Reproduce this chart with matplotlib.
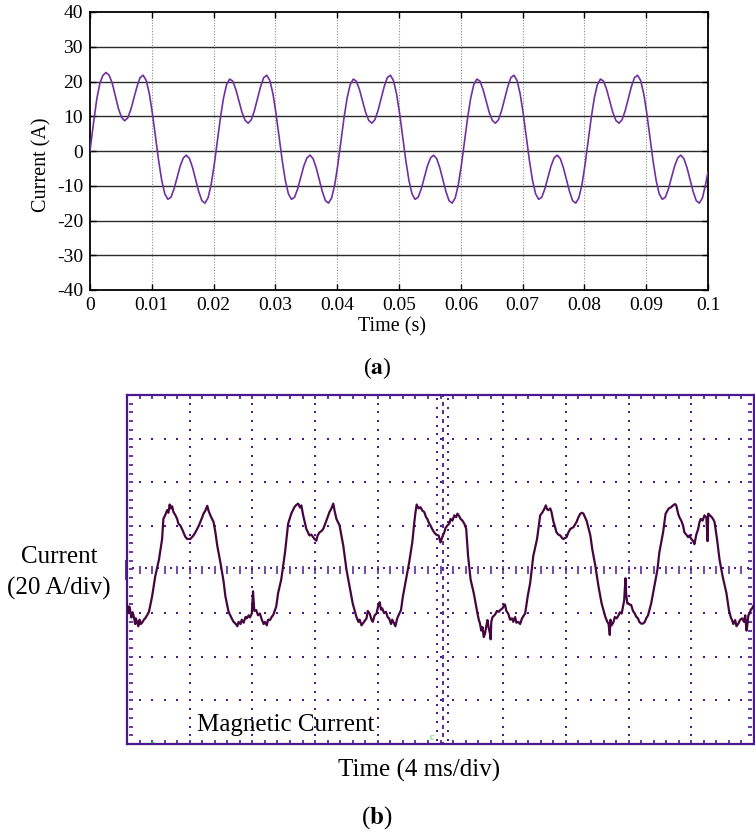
import numpy as np
import matplotlib
matplotlib.use("Agg")
import matplotlib.pyplot as plt

plt.rcParams['font.family'] = ['Liberation Serif', 'DejaVu Serif']
plt.rcParams['mathtext.fontset'] = 'stix'
plt.rcParams['axes.unicode_minus'] = False

# ---------------- data: panel (a) simulated current ----------------
time_a = [0.0] + [round(0.0001 + 0.0005 * k, 4) for k in range(200)] + [0.1]
current_a = [
    0.0,
    1.5, 8.5, 15.0, 19.5, 21.8, 22.6, 21.8, 19.5, 15.8, 12.2, 9.7, 8.7, 9.5, 11.9, 15.2,
    18.5, 21.1, 21.8, 20.3, 16.5, 10.8, 4.1, -2.7, -8.4, -12.3, -13.9, -13.3, -10.9, -7.6, -4.3, -2.0,
    -1.2, -2.2, -4.8, -8.2, -11.7, -14.3, -15.0, -13.5, -9.7, -4.0,
    2.7, 9.5, 15.2, 19.1, 20.7, 20.1, 17.7, 14.4, 11.1, 8.8, 8.0, 9.0, 11.6, 15.0, 18.5, 21.1, 21.8, 20.3, 16.5, 10.8,
    4.1, -2.7, -8.4, -12.3, -13.9, -13.3, -10.9, -7.6, -4.3, -2.0, -1.2, -2.2, -4.8, -8.2, -11.7, -14.3, -15.0, -13.5, -9.7, -4.0,
    2.7, 9.5, 15.2, 19.1, 20.7, 20.1, 17.7, 14.4, 11.1, 8.8, 8.0, 9.0, 11.6, 15.0, 18.5, 21.1, 21.8, 20.3, 16.5, 10.8,
    4.1, -2.7, -8.4, -12.3, -13.9, -13.3, -10.9, -7.6, -4.3, -2.0, -1.2, -2.2, -4.8, -8.2, -11.7, -14.3, -15.0, -13.5, -9.7, -4.0,
    2.7, 9.5, 15.2, 19.1, 20.7, 20.1, 17.7, 14.4, 11.1, 8.8, 8.0, 9.0, 11.6, 15.0, 18.5, 21.1, 21.8, 20.3, 16.5, 10.8,
    4.1, -2.7, -8.4, -12.3, -13.9, -13.3, -10.9, -7.6, -4.3, -2.0, -1.2, -2.2, -4.8, -8.2, -11.7, -14.3, -15.0, -13.5, -9.7, -4.0,
    2.7, 9.5, 15.2, 19.1, 20.7, 20.1, 17.7, 14.4, 11.1, 8.8, 8.0, 9.0, 11.6, 15.0, 18.5, 21.1, 21.8, 20.3, 16.5, 10.8,
    4.1, -2.7, -8.4, -12.3, -13.9, -13.3, -10.9, -7.6, -4.3, -2.0, -1.2, -2.2, -4.8, -8.2, -11.7, -14.3, -15.0, -13.5, -9.7,
    -6.0,
]
a_xticks = [0, 0.01, 0.02, 0.03, 0.04, 0.05, 0.06, 0.07, 0.08, 0.09, 0.1]
a_xticklabels = ['0', '0.01', '0.02', '0.03', '0.04', '0.05', '0.06', '0.07', '0.08', '0.09', '0.1']
a_yticks = [-40, -30, -20, -10, 0, 10, 20, 30, 40]

# ---------------- data: panel (b) measured current (in divisions) ----------------
time_b_div = [
    0.00, 0.02, 0.04, 0.05, 0.07, 0.09, 0.11, 0.13, 0.14, 0.16, 0.18, 0.20, 0.22, 0.24, 0.27, 0.29, 0.32, 0.35,
    0.40, 0.45, 0.51, 0.56, 0.58, 0.61, 0.64, 0.66, 0.68, 0.70, 0.72, 0.74, 0.77, 0.80, 0.82, 0.85, 0.88, 0.90,
    0.93, 0.96, 1.01, 1.06, 1.09, 1.12, 1.15, 1.17, 1.20, 1.22, 1.25, 1.28, 1.30, 1.33, 1.36, 1.38, 1.41, 1.44,
    1.49, 1.54, 1.57, 1.62, 1.67, 1.70, 1.73, 1.76, 1.78, 1.81, 1.83, 1.86, 1.89, 1.91, 1.94, 1.96, 1.99,
    2.01, 2.03, 2.06, 2.09, 2.12, 2.15, 2.18, 2.20, 2.23, 2.25, 2.28, 2.31, 2.33, 2.38, 2.41, 2.46, 2.52, 2.57,
    2.62, 2.67, 2.70, 2.73, 2.76, 2.78, 2.81, 2.84, 2.86, 2.91, 2.94, 2.97, 2.99, 3.02, 3.04, 3.07, 3.10, 3.13,
    3.18, 3.23, 3.26, 3.29, 3.31, 3.34, 3.39, 3.45, 3.50, 3.55, 3.60, 3.66, 3.69, 3.71, 3.74, 3.76, 3.79, 3.82,
    3.84, 3.87, 3.90, 3.92, 3.95, 3.98, 4.01,
    4.03, 4.05, 4.07, 4.10, 4.13, 4.16, 4.18, 4.21, 4.23, 4.26, 4.28, 4.31, 4.34, 4.37, 4.40, 4.45, 4.50, 4.55,
    4.58, 4.60, 4.62, 4.65, 4.68, 4.71, 4.74, 4.77, 4.79, 4.82, 4.84, 4.87, 4.90, 4.93, 4.97, 5.00, 5.03, 5.06,
    5.08, 5.11, 5.14, 5.16, 5.19, 5.22, 5.25, 5.27, 5.30, 5.32, 5.35, 5.38, 5.41, 5.44, 5.48, 5.53, 5.59, 5.61,
    5.63, 5.65, 5.67, 5.69, 5.71, 5.73, 5.75, 5.77, 5.79, 5.80, 5.81, 5.83, 5.86, 5.88, 5.90, 5.93, 5.96, 5.99,
    6.02,
    6.03, 6.05, 6.08, 6.11, 6.14, 6.16, 6.19, 6.21, 6.24, 6.27, 6.30, 6.33, 6.35, 6.39, 6.43, 6.48, 6.54, 6.59,
    6.63, 6.66, 6.68, 6.70, 6.72, 6.75, 6.77, 6.80, 6.82, 6.85, 6.88, 6.91, 6.94, 6.96, 7.01, 7.04, 7.07, 7.12,
    7.17, 7.20, 7.23, 7.26, 7.28, 7.31, 7.33, 7.39, 7.42, 7.47, 7.52, 7.57, 7.63, 7.66, 7.68, 7.70, 7.71, 7.73,
    7.76, 7.78, 7.81, 7.84, 7.86, 7.89, 7.91, 7.93, 7.95, 7.96, 7.98, 8.00,
    8.02, 8.04, 8.07, 8.10, 8.12, 8.15, 8.17, 8.20, 8.23, 8.26, 8.28, 8.31, 8.36, 8.40, 8.46, 8.49, 8.55, 8.59,
    8.62, 8.64, 8.67, 8.71, 8.74, 8.76, 8.79, 8.81, 8.84, 8.87, 8.89, 8.92, 8.95, 8.97, 9.00, 9.03, 9.05, 9.08,
    9.11, 9.13, 9.15, 9.18, 9.21, 9.24, 9.26, 9.27, 9.29, 9.32, 9.35, 9.37, 9.41, 9.45, 9.50, 9.56, 9.60, 9.63,
    9.65, 9.67, 9.70, 9.72, 9.75, 9.78, 9.81, 9.84, 9.86, 9.88, 9.89, 9.91, 9.93, 9.95, 9.97, 10.00,
]
current_b_div = [
    -0.80, -1.00, -0.85, -0.93, -1.10, -0.98, -1.09, -1.25, -1.12, -1.20, -1.30, -1.15, -1.25, -1.22, -1.15, -1.12, -1.05, -0.97,
    -0.62, -0.16, 0.23, 0.70, 1.16, 1.25, 1.36, 1.30, 1.49, 1.40, 1.45, 1.32, 1.25, 1.16, 1.05, 1.01, 0.92, 0.85,
    0.75, 0.70, 0.70, 0.78, 0.85, 0.93, 1.02, 1.09, 1.20, 1.28, 1.35, 1.46, 1.35, 1.24, 1.15, 1.09, 0.85, 0.54,
    0.16, -0.27, -0.62, -0.97, -1.12, -1.20, -1.24, -1.30, -1.20, -1.25, -1.15, -1.22, -1.09, -1.12, -1.05, -1.10, -1.01,
    -0.50, -0.95, -0.93, -1.05, -1.01, -1.15, -1.25, -1.20, -1.28, -1.15, -1.16, -1.08, -1.05, -0.85, -0.54, -0.23, 0.39, 1.05,
    1.28, 1.43, 1.48, 1.51, 1.42, 1.47, 1.24, 1.05, 0.93, 0.78, 0.80, 0.74, 0.70, 0.66, 0.78, 0.85, 0.88, 0.93,
    1.12, 1.32, 1.40, 1.51, 1.35, 1.16, 1.01, 0.54, 0.00, -0.39, -0.78, -1.09, -1.20, -1.15, -1.28, -1.24, -1.18, -1.12,
    -0.95, -1.01, -1.15, -1.20, -1.05, -1.01, -0.81,
    -0.75, -0.92, -0.89, -1.00, -0.97, -1.10, -1.12, -1.25, -1.15, -1.24, -1.30, -1.12, -1.02, -0.93, -0.62, -0.23, 0.16, 0.62,
    1.05, 1.30, 1.49, 1.40, 1.43, 1.35, 1.32, 1.20, 1.16, 1.05, 1.01, 0.92, 0.85, 0.80, 0.78, 0.62, 0.75, 0.85,
    0.95, 1.01, 1.05, 1.16, 1.12, 1.24, 1.20, 1.28, 1.22, 1.16, 1.12, 1.05, 0.93, 0.31, -0.23, -0.54, -1.01, -1.15,
    -1.24, -1.40, -1.32, -1.55, -1.47, -1.30, -1.16, -1.35, -1.47, -1.60, -1.20, -1.09, -1.05, -1.01, -0.95, -0.97, -0.92, -0.89,
    -0.80,
    -0.81, -0.95, -1.01, -1.15, -1.12, -1.20, -1.09, -1.22, -1.20, -1.25, -1.12, -1.05, -1.01, -0.62, -0.31, 0.31, 0.70, 1.24,
    1.32, 1.40, 1.47, 1.38, 1.36, 1.40, 1.32, 1.10, 1.01, 0.85, 0.80, 0.78, 0.72, 0.70, 0.74, 0.85, 0.93, 0.97,
    1.09, 1.20, 1.28, 1.30, 1.28, 1.18, 1.12, 0.78, 0.47, 0.08, -0.39, -0.78, -1.09, -1.20, -1.24, -1.50, -1.15, -1.28,
    -1.20, -1.09, -1.12, -1.05, -0.98, -1.01, -0.85, -0.70, -0.20, -0.55, -0.78, -0.78,
    -0.81, -0.81, -0.95, -1.01, -1.08, -1.12, -1.20, -1.24, -1.24, -1.20, -1.12, -1.05, -0.78, -0.47, 0.00, 0.39, 0.85, 1.28,
    1.35, 1.40, 1.42, 1.47, 1.50, 1.47, 1.28, 1.20, 1.12, 1.00, 0.85, 0.80, 0.74, 0.78, 0.70, 0.65, 0.58, 0.80,
    0.93, 1.08, 1.16, 1.12, 1.24, 1.20, 0.65, 1.28, 1.25, 1.21, 1.15, 1.09, 0.70, 0.23, -0.16, -0.54, -0.93, -1.10,
    -1.16, -1.25, -1.16, -1.30, -1.24, -1.15, -1.12, -1.20, -1.05, -1.40, -1.32, -1.05, -1.01, -0.92, -0.89, -0.81,
]

# ---------------- figure ----------------
W, H = 755, 836
fig = plt.figure(figsize=(W / 100, H / 100), dpi=100)


def frac(x0, y0, x1, y1):
    return [x0 / W, 1 - y1 / H, (x1 - x0) / W, (y1 - y0) / H]


# ----- panel (a) -----
ax1 = fig.add_axes(frac(90, 12, 708, 290))
for y in a_yticks[1:-1]:
    ax1.axhline(y, color='#2a2a2a', lw=1.0, zorder=1)
for x in a_xticks[1:-1]:
    ax1.axvline(x, color='#8a8a8a', lw=0.8, ls=(0, (1, 1.5)), zorder=1)
ax1.plot(time_a, current_a, color='#7030a0', lw=1.2, zorder=3)
ax1.set_xlim(0, 0.1)
ax1.set_ylim(-40, 40)
ax1.set_xticks(a_xticks)
ax1.set_xticklabels(a_xticklabels)
ax1.set_yticks(a_yticks)
ax1.tick_params(direction='in', top=True, right=True, labelsize=14, length=4, width=1, pad=5)
for s in ax1.spines.values():
    s.set_linewidth(1.3)
fig.text(42 / W, 1 - 165 / H, 'Current (A)', rotation=90, ha='center', va='center', fontsize=14.5)
fig.text(392 / W, 1 - 327 / H, 'Time (s)', ha='center', va='center', fontsize=14.5)
fig.text(377 / W, 1 - 368 / H, r'($\mathbf{a}$)', ha='center', va='center', fontsize=17)

# ----- panel (b) -----
gc = '#4a1890'
ax2 = fig.add_axes(frac(127, 395, 754, 744))
ax2.set_xlim(0, 10)
ax2.set_ylim(-4, 4)
ax2.set_xticks([])
ax2.set_yticks([])
for s in ax2.spines.values():
    s.set_linewidth(1.6)
    s.set_color(gc)

gx = np.arange(0, 10.001, 0.2)
gy = np.arange(-4, 4.001, 0.2)
dot = dict(ls='none', marker='s', ms=1.5, mew=0, color=gc, zorder=1)
for xv in [1, 2, 3, 4, 6, 7, 8, 9]:
    ax2.plot(np.full_like(gy, xv), gy, **dot)
for yv in [-3, -2, -1, 1, 2, 3]:
    ax2.plot(gx, np.full_like(gx, yv), **dot)
# centre cross with ticks
ax2.plot(np.full_like(gy, 5.04), gy, ls='none', marker='|', ms=3, mew=1.3, color=gc, zorder=1)
ax2.plot(np.full_like(gy, 4.94), gy + 0.1, **dot)
ax2.plot(np.full_like(gy, 5.12), gy + 0.1, **dot)
ax2.plot(gx, np.full_like(gx, 0.0), ls='none', marker='|', ms=6, mew=1.1, color=gc, zorder=1)
ax2.plot(gx + 0.1, np.full_like(gx, 0.03), **dot)
# frame ticks
ax2.plot(gx, np.full_like(gx, 3.95), ls='none', marker='|', ms=2.5, mew=1.2, color=gc, zorder=1)
ax2.plot(gx, np.full_like(gx, -3.95), ls='none', marker='|', ms=2.5, mew=1.2, color=gc, zorder=1)
ax2.plot(np.full_like(gy, 0.07), gy, ls='none', marker='_', ms=3, mew=1.2, color=gc, zorder=1)
ax2.plot(np.full_like(gy, 9.93), gy, ls='none', marker='_', ms=3, mew=1.2, color=gc, zorder=1)
# ground marker and trigger marks
ax2.plot([-0.02, -0.02], [-0.2, 0.2], color=gc, lw=2, clip_on=False)
ax2.text(4.86, -3.85, 'c', color='#33dd33', fontsize=7, ha='center', va='center')
ax2.plot([0.4], [-3.98], ls='none', marker='s', ms=2, color='#33dd33')

ax2.plot(time_b_div, current_b_div, color='#45063f', lw=1.6, zorder=3)
ax2.text(2.53, -3.56, 'Magnetic Current', fontsize=18, ha='center', va='center')

fig.text(59 / W, 1 - 557 / H, 'Current', ha='center', va='center', fontsize=18)
fig.text(59 / W, 1 - 588 / H, '(20 A/div)', ha='center', va='center', fontsize=18)
fig.text(419 / W, 1 - 770 / H, 'Time (4 ms/div)', ha='center', va='center', fontsize=18)
fig.text(377 / W, 1 - 818 / H, r'($\mathbf{b}$)', ha='center', va='center', fontsize=18)

fig.savefig('out.png', dpi=100)
